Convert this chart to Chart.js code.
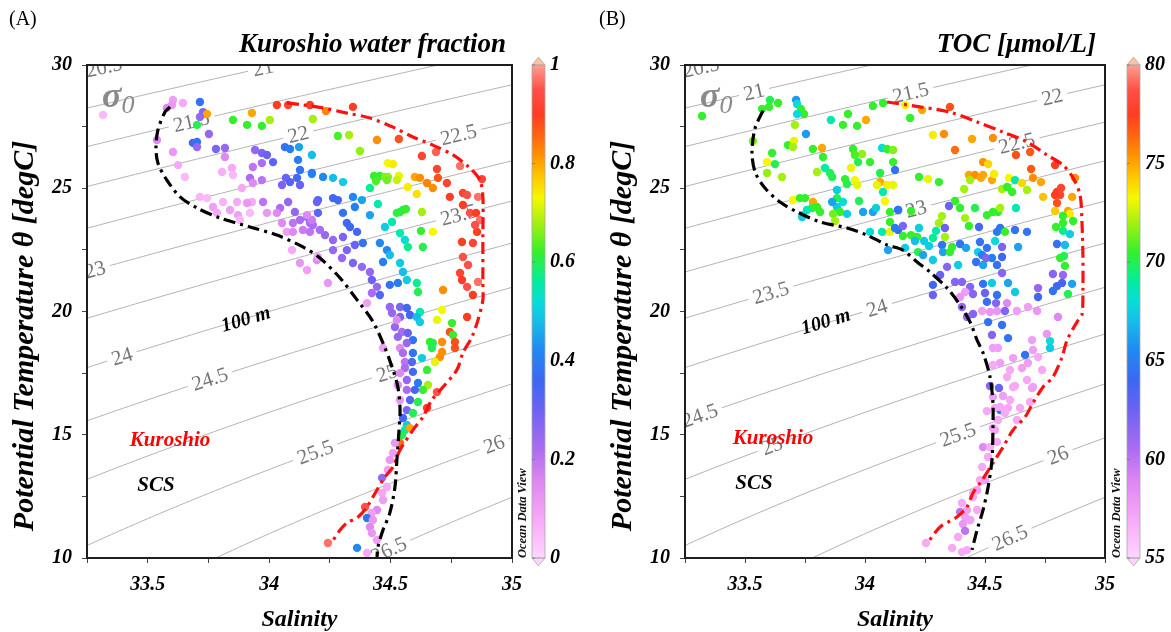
<!DOCTYPE html>
<html>
<head>
<meta charset="utf-8">
<script src="https://cdn.jsdelivr.net/npm/chart.js@4.4.1/dist/chart.umd.min.js"></script>
<style>
  html, body { margin: 0; padding: 0; background: #fff; width: 1171px; height: 632px; overflow: hidden; }
  canvas { position: absolute; top: 0; }
  #cA { left: 0; }
  #cB { left: 590px; }
</style>
</head>
<body>
<canvas id="cA" width="590" height="632"></canvas>
<canvas id="cB" width="581" height="632"></canvas>
<script>
// ---------- axis ranges and tick values ----------
const salinityRange = [33.25, 35];
const thetaRange = [10, 30];
const sigmaLevels = [20.5, 21, 21.5, 22, 22.5, 23, 23.5, 24, 24.5, 25, 25.5, 26, 26.5];
const fracTicks = [0, 0.2, 0.4, 0.6, 0.8, 1];
const tocTicks = [55, 60, 65, 70, 75, 80];

// ---------- water-mass boundary curves [salinity, theta] ----------
const scsCurveA = [[33.592,28.30],[33.571,28.09],[33.542,27.36],[33.534,26.67],[33.542,26.02],[33.579,25.33],[33.633,24.65],[33.703,24.20],[33.798,23.79],[33.921,23.43],[34.032,23.10],[34.139,22.62],[34.209,22.17],[34.292,21.36],[34.362,20.47],[34.423,19.66],[34.469,18.72],[34.506,17.75],[34.530,16.94],[34.539,16.00],[34.534,15.07],[34.526,13.98],[34.518,12.88],[34.497,11.83],[34.469,11.14],[34.448,10.45],[34.444,10.04]];
const kuroCurveA = [[34.073,28.46],[34.139,28.38],[34.222,28.26],[34.320,28.05],[34.415,27.85],[34.510,27.48],[34.592,27.08],[34.674,26.75],[34.757,26.35],[34.827,25.82],[34.868,25.33],[34.880,24.65],[34.880,23.02],[34.880,21.16],[34.880,20.47],[34.860,19.66],[34.835,18.97],[34.798,18.32],[34.773,17.63],[34.716,16.94],[34.670,16.41],[34.633,15.72],[34.592,15.19],[34.539,14.38],[34.510,13.69],[34.477,13.29],[34.444,12.76],[34.403,12.07],[34.366,11.66],[34.320,11.42],[34.292,11.14],[34.259,10.65]];
const scsCurveB = [[33.575,28.15],[33.542,27.44],[33.529,26.47],[33.542,25.66],[33.583,25.01],[33.646,24.44],[33.717,24.04],[33.813,23.63],[33.925,23.39],[34.008,23.10],[34.092,22.70],[34.158,22.49],[34.217,22.01],[34.271,21.60],[34.342,20.95],[34.396,20.26],[34.438,19.57],[34.467,18.84],[34.492,18.32],[34.521,17.34],[34.533,16.29],[34.533,15.19],[34.529,13.98],[34.513,12.88],[34.492,11.95],[34.467,11.14],[34.446,10.33]];
const kuroCurveB = [[34.092,28.50],[34.229,28.30],[34.354,28.09],[34.467,27.69],[34.575,27.28],[34.675,26.88],[34.758,26.35],[34.825,25.94],[34.867,25.42],[34.896,24.73],[34.904,23.63],[34.908,22.29],[34.908,20.95],[34.904,19.86],[34.885,19.60],[34.842,18.84],[34.821,18.15],[34.783,17.34],[34.742,16.94],[34.700,16.29],[34.667,15.72],[34.617,15.19],[34.575,14.50],[34.533,13.85],[34.488,13.16],[34.450,12.64],[34.425,12.07],[34.383,11.66],[34.313,11.26],[34.263,10.65]];

// ---------- samples: [salinity, theta, Kuroshio water fraction] ----------
const kuroshioFraction = [
 [33.316,27.97,0.05],[33.604,28.58,0.10],[33.645,28.46,0.08],[33.579,28.26,0.15],[33.600,28.38,0.12],[33.715,28.50,0.38],
 [33.728,28.09,0.28],[33.744,28.01,0.80],[33.715,27.89,0.25],[33.703,27.57,0.60],[33.752,27.20,0.25],[33.686,26.84,0.35],
 [33.703,26.88,0.38],[33.703,26.67,0.25],[33.538,26.96,0.15],[33.781,26.59,0.28],[33.818,26.63,0.25],[33.818,26.27,0.15],
 [33.604,26.47,0.12],[33.625,25.94,0.08],[33.653,25.46,0.05],[33.806,25.66,0.07],[33.847,25.82,0.08],[33.851,25.54,0.05],
 [33.921,25.42,0.22],[33.933,25.21,0.15],[33.970,25.33,0.20],[33.929,24.44,0.08],[33.975,24.44,0.20],[33.942,26.55,0.25],
 [33.970,26.43,0.28],[33.991,26.35,0.30],[33.970,26.02,0.22],[34.016,26.06,0.32],[33.933,25.86,0.20],[34.065,26.67,0.38],
 [34.086,26.59,0.40],[34.123,26.67,0.45],[34.119,26.15,0.40],[34.127,25.74,0.38],[34.176,26.35,0.48],[34.176,25.58,0.45],
 [34.069,25.42,0.30],[34.086,25.25,0.33],[34.053,25.13,0.28],[34.115,25.42,0.35],[34.127,25.13,0.30],[34.078,24.44,0.25],
 [34.045,24.20,0.22],[34.106,24.04,0.25],[34.201,24.52,0.38],[34.156,23.83,0.25],[34.168,23.59,0.22],[34.201,24.00,0.32],
 [33.715,24.65,0.06],[33.744,24.60,0.05],[33.769,24.24,0.10],[33.810,24.44,0.06],[33.785,24.00,0.08],[33.839,24.12,0.10],
 [33.868,24.44,0.08],[33.872,23.91,0.10],[33.909,24.40,0.12],[33.888,25.01,0.08],[33.921,24.00,0.05],[33.880,23.71,0.05],
 [33.991,24.00,0.12],[34.032,24.00,0.15],[34.073,23.23,0.10],[34.098,23.23,0.15],[34.139,23.31,0.18],[34.168,23.23,0.20],
 [34.094,22.49,0.08],[34.197,22.09,0.15],[34.127,23.71,0.22],[34.098,23.59,0.20],[34.053,23.59,0.15],
 [34.032,28.38,0.90],[33.929,28.05,0.80],[33.851,27.77,0.62],[33.909,27.57,0.62],[33.970,27.53,0.62],[34.003,27.77,0.68],
 [34.078,28.38,0.92],
 [34.168,28.38,0.90],[34.234,28.13,0.83],[34.345,28.30,0.90],[34.180,27.81,0.68],[34.283,27.12,0.63],[34.329,27.16,0.68],
 [34.374,26.51,0.67],[34.444,26.96,0.82],[34.534,27.00,0.88],[34.629,26.31,0.92],[34.687,26.47,0.96],[34.786,25.90,0.97],
 [34.691,25.78,0.92],[34.695,25.42,0.88],[34.732,25.21,0.92],[34.876,25.37,0.92],[34.489,26.02,0.73],[34.510,25.98,0.74],
 [34.432,25.50,0.62],[34.456,25.50,0.62],[34.477,25.46,0.66],[34.489,25.46,0.67],[34.534,25.50,0.72],[34.440,25.29,0.63],
 [34.485,25.33,0.65],[34.526,25.33,0.70],[34.600,25.46,0.80],[34.621,25.42,0.82],[34.571,25.05,0.74],[34.608,24.77,0.75],
 [34.650,25.21,0.83],[34.674,25.01,0.82],[34.744,24.65,0.90],[34.798,24.81,0.92],[34.815,24.73,0.95],[34.798,24.32,0.90],
 [34.860,24.65,0.97],[34.827,24.00,0.95],[34.852,24.00,0.90],[34.868,23.71,0.97],[34.856,23.23,0.90],[34.848,23.51,0.95],
 [34.794,22.82,0.90],[34.839,22.78,0.92],[34.798,22.21,0.95],[34.819,21.89,0.95],[34.786,21.56,0.92],[34.860,21.20,0.97],
 [34.815,21.00,0.95],[34.794,21.28,0.90],[34.839,20.67,0.90],[34.716,20.87,0.82],[34.629,24.04,0.68],[34.674,23.23,0.73],
 [34.625,23.27,0.62],[34.633,22.62,0.60],[34.539,24.04,0.62],[34.551,24.12,0.60],[34.563,24.16,0.62],[34.526,24.00,0.61],
 [34.415,25.01,0.57],[34.448,24.36,0.55],[34.415,23.91,0.45],[34.353,24.24,0.40],[34.382,24.52,0.45],[34.345,24.65,0.42],
 [34.304,25.25,0.50],[34.263,25.42,0.48],[34.222,25.46,0.42],[34.176,25.62,0.40],[34.283,24.52,0.35],[34.263,24.60,0.35],
 [34.197,24.44,0.30],[34.320,23.59,0.35],[34.333,23.43,0.36],[34.304,24.00,0.38],[34.477,23.43,0.50],[34.506,23.63,0.55],
 [34.539,23.18,0.55],[34.559,22.90,0.52],[34.571,22.62,0.57],[34.456,22.78,0.42],[34.485,22.49,0.42],[34.497,22.29,0.48],
 [34.469,22.01,0.40],[34.539,21.97,0.50],[34.551,21.60,0.48],[34.567,21.28,0.50],[34.608,21.16,0.57],[34.613,20.79,0.60],
 [34.530,21.16,0.40],[34.497,21.08,0.38],[34.386,22.78,0.38],[34.353,22.70,0.30],[34.362,23.23,0.35],[34.304,23.02,0.28],
 [34.263,22.90,0.25],[34.230,23.10,0.25],[34.209,23.31,0.22],[34.180,23.51,0.22],[34.176,23.71,0.18],[34.156,23.91,0.15],
 [34.263,22.49,0.25],[34.320,22.49,0.28],[34.300,22.17,0.25],[34.345,21.97,0.28],[34.382,21.81,0.25],[34.415,21.60,0.25],
 [34.423,21.28,0.30],[34.444,21.00,0.25],[34.423,20.75,0.22],[34.456,20.67,0.33],[34.242,21.16,0.12],[34.156,21.68,0.10],
 [34.201,22.21,0.10],[34.127,21.97,0.12],
 [34.403,20.34,0.10],[34.497,20.18,0.25],[34.539,20.18,0.28],[34.567,20.14,0.35],[34.621,19.98,0.55],[34.712,20.06,0.73],
 [34.506,19.94,0.25],[34.539,19.78,0.28],[34.580,19.86,0.35],[34.608,19.78,0.48],[34.621,19.57,0.50],[34.691,19.66,0.72],
 [34.753,19.53,0.62],[34.815,19.78,0.90],[34.518,19.37,0.25],[34.547,19.17,0.22],[34.571,19.13,0.30],[34.530,18.97,0.25],
 [34.526,19.66,0.15],[34.592,18.84,0.38],[34.567,18.72,0.25],[34.539,18.52,0.15],[34.469,18.52,0.10],[34.551,18.32,0.22],
 [34.592,18.32,0.38],[34.629,18.11,0.50],[34.662,18.76,0.62],[34.670,18.52,0.60],[34.674,18.72,0.60],[34.712,18.76,0.82],
 [34.712,18.36,0.82],[34.744,19.17,0.88],[34.757,19.05,0.62],[34.765,18.76,0.88],[34.765,18.52,0.88],[34.703,18.15,0.82],
 [34.683,17.95,0.72],[34.650,17.63,0.62],[34.559,17.95,0.20],[34.588,17.95,0.33],[34.559,17.71,0.22],[34.592,17.55,0.35],
 [34.539,17.50,0.15],[34.567,17.22,0.25],[34.613,17.10,0.40],[34.654,17.02,0.68],[34.633,16.82,0.62],[34.600,16.82,0.35],
 [34.567,16.82,0.22],[34.530,17.02,0.15],[34.539,16.41,0.12],[34.580,16.41,0.33],[34.613,16.33,0.60],[34.650,16.09,0.90],
 [34.691,16.73,0.95],[34.567,16.00,0.28],[34.592,15.88,0.60],[34.551,15.68,0.35],[34.567,15.40,0.50],[34.559,15.19,0.55],
 [34.580,15.27,0.80],[34.547,14.99,0.60],[34.539,14.67,0.85],[34.518,14.67,0.12],[34.510,14.26,0.10],[34.497,13.98,0.12],
 [34.489,13.57,0.10],[34.465,13.25,0.25],[34.485,12.88,0.08],[34.465,12.64,0.08],[34.469,12.35,0.10],[34.444,11.95,0.15],
 [34.423,11.83,0.10],[34.403,11.62,0.38],[34.427,11.54,0.12],[34.415,11.26,0.15],[34.423,11.01,0.12],[34.444,10.73,0.10],
 [34.395,12.07,0.95],[34.362,10.41,0.42],[34.403,10.20,0.08],[34.242,10.61,0.97]
];

// ---------- samples: [salinity, theta, TOC umol/L] ----------
const tocValues = [
 [33.321,27.93,70.5],[33.571,28.22,70.5],[33.604,28.58,70],[33.600,28.30,70.5],[33.638,28.46,70.5],[33.713,28.58,66],
 [33.717,28.42,68],[33.733,28.22,70.5],[33.746,28.01,70.5],[33.717,28.01,68],[33.708,27.57,72],[33.754,27.20,66],
 [33.533,26.92,71.5],[33.679,26.75,70.5],[33.704,26.92,73],[33.700,26.67,72],[33.613,26.43,70.5],[33.592,26.06,73.25],
 [33.625,25.98,70],[33.592,25.62,71.75],[33.654,25.46,72],[33.783,26.59,70.5],[33.821,26.63,75],[33.825,26.27,70.5],
 [33.800,25.66,72],[33.833,25.82,68.75],[33.854,25.62,70],[33.863,25.46,70],[33.858,27.77,68.75],[33.929,28.01,70.5],
 [33.908,27.57,70.5],[33.967,27.53,70.5],[34.004,27.77,75],[34.033,28.34,70.5],[34.075,28.46,70.5],[33.950,26.59,70.5],
 [33.988,26.39,71.75],[33.958,26.35,70.75],[33.971,26.06,70],[34.021,26.06,70.5],[33.942,25.82,73],[34.071,26.63,68],
 [34.092,26.59,70.5],[34.117,26.55,71.5],[34.117,26.06,70.5],[34.125,25.74,64.5],[33.917,25.37,70.5],[33.958,25.33,73.25],
 [33.967,25.13,73],[33.925,25.17,70],[33.883,24.93,67.5],[34.063,25.62,70],[34.063,25.25,75],[34.050,25.13,73],
 [34.092,25.13,73.5],[34.117,25.13,73],[34.075,24.85,68.75],[34.083,24.48,73.25],[33.975,24.48,70],[33.883,24.60,70],
 [33.908,24.44,68],[33.883,24.24,67.5],[33.896,24.04,70.5],[33.863,24.44,66.25],[33.867,23.96,71.25],[33.875,23.67,72],
 [33.925,23.96,67.5],[33.992,24.04,66.25],[34.033,24.04,66.25],[34.046,24.20,67.5],[34.104,24.04,70.5],[34.138,24.12,63.75],
 [34.104,23.63,70.5],[34.104,23.23,73],[34.138,23.31,63.75],[34.071,23.23,68.75],[34.021,23.23,68],[34.096,22.49,66.25],
 [33.700,24.52,73.25],[33.729,24.60,70.5],[33.750,24.60,70.5],[33.783,24.44,75],[33.800,24.24,70.5],[33.779,24.20,70.5],
 [33.813,24.04,70.5],[33.758,24.12,68.75],[33.742,23.91,68],[33.738,23.83,67.5],
 [34.167,28.38,73.25],[34.238,28.17,75],[34.188,27.85,70.5],[34.354,28.30,77],[34.283,27.16,73.5],[34.329,27.20,75.5],
 [34.446,27.00,75],[34.533,27.04,75.5],[34.375,26.55,76.25],[34.492,26.06,75.5],[34.513,25.98,74],[34.629,26.35,77],
 [34.688,26.47,76.75],[34.692,25.78,76.75],[34.792,25.94,77.5],[34.433,25.54,75],[34.458,25.54,75.5],[34.483,25.42,75],
 [34.492,25.54,75],[34.529,25.33,75],[34.538,25.58,73.5],[34.600,25.42,73.25],[34.625,25.33,68.75],[34.700,25.42,75.5],
 [34.733,25.25,75],[34.654,25.21,74],[34.675,24.93,72],[34.438,25.33,72],[34.413,24.97,72],[34.571,24.97,72],
 [34.613,24.85,70.5],[34.592,25.05,70.5],[34.308,25.25,70.5],[34.263,25.37,73],[34.225,25.46,70.5],[34.800,24.85,77.5],
 [34.813,24.73,78],[34.792,24.73,77.5],[34.817,25.01,78],[34.800,24.40,77],[34.742,24.65,74.5],[34.863,24.65,75],
 [34.875,25.42,75.5],[34.792,24.08,74.25],[34.846,24.08,75],[34.854,23.96,73.5],[34.825,23.87,70.5],[34.867,23.67,70.5],
 [34.825,23.59,70.5],[34.796,23.43,70.5],[34.825,23.27,69.25],[34.854,23.14,67.5],[34.800,22.74,64.5],[34.833,22.70,67],
 [34.813,22.17,70.5],[34.829,22.25,70],[34.833,21.85,70.5],[34.783,21.52,61.75],[34.825,21.48,61.25],[34.821,21.16,63.75],
 [34.800,21.03,63.75],[34.783,20.83,64.5],[34.863,21.12,66.25],[34.846,20.71,70],[34.721,20.95,61.25],[34.721,20.59,63.75],
 [34.629,24.20,68.75],[34.554,24.04,70.5],[34.563,24.20,72],[34.533,24.04,70.5],[34.475,23.43,63.75],[34.508,23.91,70.5],
 [34.433,23.47,70.5],[34.417,23.79,72],[34.458,24.20,70],[34.396,24.20,70.5],[34.350,24.28,62.5],[34.375,24.48,70.5],
 [34.321,23.87,72],[34.308,23.59,72],[34.333,23.39,62.5],[34.296,23.27,68.75],[34.333,23.02,72],[34.283,22.98,69.25],
 [34.267,22.66,67.5],[34.246,22.86,67.5],[34.217,23.02,70.5],[34.192,23.10,70.5],[34.225,23.39,67.5],[34.192,24.08,70.5],
 [34.138,24.12,64.5],[34.158,23.47,62],[34.158,23.06,70.5],[34.125,23.39,65],[34.167,22.58,67.5],[34.208,22.86,67],
 [34.221,22.41,70],[34.242,22.29,66.25],[34.283,22.09,67.5],[34.321,22.70,64.5],[34.325,22.41,66.25],[34.354,22.41,70.5],
 [34.363,22.62,70.5],[34.396,22.74,64.5],[34.421,22.58,66.25],[34.479,22.82,64.5],[34.471,22.41,67.5],[34.488,22.29,65],
 [34.463,22.01,64.5],[34.492,21.89,66.25],[34.508,22.58,64.5],[34.550,23.23,65],[34.563,23.39,64.5],[34.583,23.23,70.5],
 [34.542,22.86,68],[34.571,22.62,62],[34.571,22.21,63.75],[34.529,22.17,65],[34.504,22.17,62],[34.550,21.89,64.5],
 [34.571,21.56,61.75],[34.625,23.31,64.5],[34.638,22.62,66.25],[34.675,23.23,64.5],[34.388,21.89,67.5],[34.342,21.81,61.75],
 [34.313,21.48,62.5],[34.283,21.08,63.75],[34.375,21.20,61.75],[34.404,21.20,61.75],[34.438,21.00,61.75],[34.417,20.79,57.5],
 [34.450,20.71,61.75],[34.492,21.12,64.5],[34.500,20.75,62.5],[34.529,21.16,67.5],[34.550,20.67,64.5],[34.596,21.16,66.25],
 [34.625,20.79,67.5],[34.508,20.39,64.5],[34.546,20.34,61.75],[34.592,20.34,58.75],[34.488,20.02,57.5],[34.521,19.98,58],
 [34.550,20.02,58],[34.583,20.02,61.75],[34.633,20.02,57.5],[34.404,20.18,61.25],[34.450,19.90,61.75],[34.425,19.78,61.25],
 [34.679,20.18,57.5],[34.717,20.02,58],[34.804,19.78,58.75],[34.283,20.67,62.5],[34.396,20.59,58],
 [34.513,19.57,64.5],[34.571,19.45,64.5],[34.529,19.05,61.75],[34.596,18.92,64.5],[34.533,18.52,57.5],[34.554,18.52,57.5],
 [34.667,18.24,64.5],[34.771,18.80,68],[34.771,18.52,67.5],[34.758,19.09,58],[34.696,18.84,57.5],[34.700,18.44,57.5],
 [34.617,18.11,57.5],[34.654,17.71,57.5],[34.563,17.91,57.5],[34.592,17.34,57],[34.533,17.83,57],[34.521,16.98,61.75],
 [34.558,16.90,62.5],[34.575,16.57,57.5],[34.604,16.41,57],[34.646,16.09,57],[34.696,16.90,57.5],[34.625,16.98,57],
 [34.563,16.00,65],[34.554,15.60,57],[34.533,15.27,57.5],[34.596,16.09,57],[34.542,16.09,57],[34.508,15.96,57],
 [34.550,14.71,57],[34.492,14.50,58.75],[34.513,14.10,57],[34.488,13.69,57],[34.479,13.16,57],[34.467,12.76,57.5],
 [34.450,12.47,57],[34.404,12.23,57],[34.425,11.95,57.5],[34.396,11.87,60],[34.417,11.66,57.5],[34.438,11.54,57],
 [34.408,11.38,58],[34.417,11.10,60],[34.254,10.61,57],[34.363,10.41,57],[34.404,10.24,57],
 [34.675,17.22,57],[34.700,16.94,57.5],[34.617,16.94,57],[34.583,15.88,57],[34.633,15.60,57],[34.563,16.13,57],
 [34.533,16.53,57.5],[34.604,17.63,57],[34.679,17.91,57.5],[34.721,18.15,57],[34.738,17.63,57],[34.688,16.33,57],
 [34.542,15.19,57],[34.521,14.50,57],[34.500,13.16,57.5],[34.467,11.95,57],[34.450,12.64,57],[34.438,11.54,57.5],
 [34.388,10.85,57],[34.425,10.32,57]
];

// ---------- style ----------
const SERIF = '"Liberation Serif", "Times New Roman", serif';
const cmapStops = [
  [0.00,'#ffd6ff'],[0.08,'#f7a8f7'],[0.16,'#dc84f3'],[0.22,'#ac6cf1'],[0.30,'#6c62f2'],[0.36,'#3c68f3'],
  [0.42,'#2088f2'],[0.48,'#16bde9'],[0.52,'#08dcd8'],[0.56,'#00eda0'],[0.62,'#34f02c'],[0.68,'#a4f010'],
  [0.73,'#f6f800'],[0.78,'#ffc000'],[0.82,'#ff8e00'],[0.86,'#ff6212'],[0.90,'#ff3d22'],[0.95,'#ff5048'],[1.00,'#ffa090']
];
function hexRgb(h){ return [parseInt(h.slice(1,3),16), parseInt(h.slice(3,5),16), parseInt(h.slice(5,7),16)]; }
function cmap(n){
  n = Math.max(0, Math.min(1, n));
  for (let i = 1; i < cmapStops.length; i++){
    const [n1, c1] = cmapStops[i];
    if (n <= n1){
      const [n0, c0] = cmapStops[i-1];
      const f = (n - n0) / (n1 - n0);
      const a = hexRgb(c0), b = hexRgb(c1);
      return 'rgb(' + a.map((v, k) => Math.round(v + (b[k] - v) * f)).join(',') + ')';
    }
  }
  return cmapStops[cmapStops.length-1][1];
}

// ---------- UNESCO 1980 equation of state at the surface ----------
function rho0(S, T){
  const rw = 999.842594 + 6.793952e-2*T - 9.095290e-3*T*T + 1.001685e-4*T**3 - 1.120083e-6*T**4 + 6.536332e-9*T**5;
  const A = 8.24493e-1 - 4.0899e-3*T + 7.6438e-5*T*T - 8.2467e-7*T**3 + 5.3875e-9*T**4;
  const B = -5.72466e-3 + 1.0227e-4*T - 1.6546e-6*T*T;
  return rw + A*S + B*Math.pow(S, 1.5) + 4.8314e-4*S*S;
}
function thetaOnIsopycnal(S, sig){
  let lo = -2, hi = 40;
  for (let i = 0; i < 60; i++){
    const mid = (lo + hi) / 2;
    if (rho0(S, mid) - 1000 > sig) lo = mid; else hi = mid;
  }
  return (lo + hi) / 2;
}
function isoLine(sig){
  const pts = [];
  for (let s = 33.0; s <= 35.3001; s += 0.025) pts.push({x: s, y: thetaOnIsopycnal(s, sig)});
  return pts;
}
function isoAngle(xs, ys, s, sig){
  const s1 = s - 0.04, s2 = s + 0.04;
  const x1 = xs.getPixelForValue(s1), y1 = ys.getPixelForValue(thetaOnIsopycnal(s1, sig));
  const x2 = xs.getPixelForValue(s2), y2 = ys.getPixelForValue(thetaOnIsopycnal(s2, sig));
  return Math.atan2(y2 - y1, x2 - x1);
}

// ---------- panels ----------
const panels = [
  {
    canvas: 'cA', tag: '(A)', title: 'Kuroshio water fraction',
    samples: kuroshioFraction, scale: [0, 1], cbarTicks: fracTicks,
    scs: scsCurveA, kuro: kuroCurveA,
    yAxisWidth: 87, padRight: 78, cbarX: 532, odvX: 522, yTitleX: 25,
    isoLabels: [[20.5,33.32],[21,33.975],[21.5,33.68],[22,34.12],[22.5,34.78],[23,33.283],[23.5,34.78],
                [24,33.394],[24.5,33.756],[25,34.485],[25.5,34.19],[26,34.926],[26.5,34.493]],
    notes: {sigma: [33.312, 28.30], depth: [33.905, 19.66], kuro: [33.592, 14.75], scs: [33.534, 12.92]}
  },
  {
    canvas: 'cB', tag: '(B)', title: 'TOC [\u03bcmol/L]',
    samples: tocValues, scale: [55, 80], cbarTicks: tocTicks,
    scs: scsCurveB, kuro: kuroCurveB,
    yAxisWidth: 95, padRight: 66, cbarX: 537, odvX: 526, yTitleX: 33,
    isoLabels: [[20.5,33.317],[21,33.5375],[21.5,34.19],[22,34.78],[22.5,34.633],[23,34.2125],[23.5,33.608],
                [24,34.05],[24.5,33.3125],[25,33.6125],[25.5,34.3875],[26,34.804],[26.5,34.604]],
    notes: {sigma: [33.3125, 28.30], depth: [33.8375, 19.57], kuro: [33.617, 14.83], scs: [33.5375, 13.0]}
  }
];

function drawText(ctx, str, x, y, font, color, align, baseline, angle){
  ctx.save();
  ctx.translate(x, y);
  if (angle) ctx.rotate(angle);
  ctx.font = font;
  ctx.fillStyle = color;
  ctx.textAlign = align || 'left';
  ctx.textBaseline = baseline || 'alphabetic';
  ctx.fillText(str, 0, 0);
  ctx.restore();
}

function drawIsoLabels(chart, p){
  const {ctx, chartArea: ca} = chart;
  const xs = chart.scales.x, ys = chart.scales.y;
  ctx.save();
  ctx.beginPath(); ctx.rect(ca.left, ca.top, ca.width, ca.height); ctx.clip();
  ctx.font = '21px ' + SERIF;
  p.isoLabels.forEach(([sig, s]) => {
    const t = thetaOnIsopycnal(s, sig);
    const px = xs.getPixelForValue(s), py = ys.getPixelForValue(t);
    const ang = isoAngle(xs, ys, s, sig);
    const txt = String(sig);
    const w = ctx.measureText(txt).width;
    ctx.save();
    ctx.translate(px, py); ctx.rotate(ang);
    ctx.fillStyle = '#fff';
    ctx.fillRect(-w/2 - 5, -4, w + 10, 8);
    ctx.fillStyle = '#767676';
    ctx.textAlign = 'center'; ctx.textBaseline = 'middle';
    ctx.fillText(txt, 0, 1);
    ctx.restore();
  });
  ctx.restore();
}

function drawDecor(chart, p){
  const {ctx, chartArea: ca} = chart;
  const xs = chart.scales.x, ys = chart.scales.y;
  const [vmin, vmax] = p.scale;

  // frame
  ctx.save();
  ctx.strokeStyle = '#1e1e1e'; ctx.lineWidth = 2;
  ctx.strokeRect(ca.left, ca.top, ca.width, ca.height);
  ctx.restore();

  // colour bar
  const bx = p.cbarX, bw = 13, top = ca.top, bot = ca.bottom;
  ctx.save();
  for (let yy = top; yy < bot; yy++){
    ctx.fillStyle = cmap((bot - yy - 0.5) / (bot - top));
    ctx.fillRect(bx, yy, bw, 1);
  }
  ctx.strokeStyle = '#a8a8a8'; ctx.lineWidth = 0.8;
  ctx.beginPath(); ctx.moveTo(bx, top); ctx.lineTo(bx + bw/2, top - 8); ctx.lineTo(bx + bw, top); ctx.closePath();
  ctx.fillStyle = '#ffc2a4'; ctx.fill(); ctx.stroke();
  ctx.beginPath(); ctx.moveTo(bx, bot); ctx.lineTo(bx + bw/2, bot + 8); ctx.lineTo(bx + bw, bot); ctx.closePath();
  ctx.fillStyle = '#ffd6ff'; ctx.fill(); ctx.stroke();
  ctx.strokeRect(bx, top, bw, bot - top);
  ctx.strokeStyle = '#777';
  p.cbarTicks.forEach(v => {
    const yy = bot - (v - vmin) / (vmax - vmin) * (bot - top);
    ctx.beginPath(); ctx.moveTo(bx, yy); ctx.lineTo(bx + 3, yy); ctx.stroke();
    drawText(ctx, String(v), bx + bw + 5, yy, 'italic bold 20px ' + SERIF, '#000', 'left', 'middle');
  });
  ctx.restore();
  drawText(ctx, 'Ocean Data View', p.odvX + 4, bot, 'italic bold 12.5px ' + SERIF, '#111', 'left', 'alphabetic', -Math.PI/2);

  // panel tag and title
  drawText(ctx, p.tag, 9, 25, '20px ' + SERIF, '#000', 'left', 'alphabetic');
  drawText(ctx, p.title, 506, 52, 'italic bold 27px ' + SERIF, '#000', 'right', 'alphabetic');

  // axis titles
  drawText(ctx, 'Salinity', (ca.left + ca.right) / 2, 626, 'italic bold 24px ' + SERIF, '#000', 'center', 'alphabetic');
  drawText(ctx, 'Potential Temperature \u03b8 [degC]', p.yTitleX, 336, 'italic bold 30px ' + SERIF,
           '#000', 'center', 'middle', -Math.PI/2);

  // in-plot annotations
  const n = p.notes;
  let px = xs.getPixelForValue(n.sigma[0]), py = ys.getPixelForValue(n.sigma[1]);
  ctx.save();
  ctx.font = 'italic bold 36px ' + SERIF;
  const ws = ctx.measureText('\u03c3').width;
  ctx.restore();
  drawText(ctx, '\u03c3', px, py, 'italic bold 36px ' + SERIF, '#8a8a8a', 'left', 'alphabetic');
  drawText(ctx, '0', px + ws, py + 6, 'italic 26px ' + SERIF, '#8a8a8a', 'left', 'alphabetic');

  px = xs.getPixelForValue(n.depth[0]); py = ys.getPixelForValue(n.depth[1]);
  const sigHere = rho0(n.depth[0], n.depth[1]) - 1000;
  drawText(ctx, '100 m', px, py, 'italic bold 20px ' + SERIF, '#000', 'center', 'middle', isoAngle(xs, ys, n.depth[0], sigHere));

  drawText(ctx, 'Kuroshio', xs.getPixelForValue(n.kuro[0]), ys.getPixelForValue(n.kuro[1]),
           'italic bold 21px ' + SERIF, '#ff0000', 'center', 'middle');
  drawText(ctx, 'SCS', xs.getPixelForValue(n.scs[0]), ys.getPixelForValue(n.scs[1]),
           'italic bold 21px ' + SERIF, '#000', 'center', 'middle');
}

function makeOverlay(p){
  let isoDrawn = 0;
  return {
    id: 'tsOverlay',
    beforeDatasetsDraw(){ isoDrawn = 0; },
    afterDatasetDraw(chart, args){
      const ds = chart.data.datasets[args.index];
      if (ds.role === 'iso'){
        isoDrawn++;
        if (isoDrawn === sigmaLevels.length) drawIsoLabels(chart, p);
      }
    },
    afterDraw(chart){ drawDecor(chart, p); }
  };
}

const tickFont = {family: 'Liberation Serif', size: 20, style: 'italic', weight: 'bold'};

function buildPanel(p){
  const [vmin, vmax] = p.scale;
  const colours = p.samples.map(r => cmap((r[2] - vmin) / (vmax - vmin)));
  const isoSets = sigmaLevels.map(sig => ({
    role: 'iso', data: isoLine(sig), showLine: true, pointRadius: 0,
    borderColor: '#b3b3b3', borderWidth: 1, tension: 0, order: 3
  }));
  const sampleSet = {
    role: 'samples', data: p.samples.map(r => ({x: r[0], y: r[1]})),
    pointRadius: 4.2, pointBackgroundColor: colours, pointBorderColor: colours, pointBorderWidth: 0, order: 2
  };
  const curve = (arr, colour) => ({
    role: 'curve', data: arr.map(r => ({x: r[0], y: r[1]})), showLine: true, pointRadius: 0,
    borderColor: colour, borderWidth: 3.2, borderDash: [12, 5, 3, 5], tension: 0.3, order: 1
  });

  new Chart(document.getElementById(p.canvas), {
    type: 'scatter',
    data: {datasets: [...isoSets, sampleSet, curve(p.scs, '#000000'), curve(p.kuro, '#ff1010')]},
    options: {
      responsive: false, animation: false, devicePixelRatio: 1, events: [],
      layout: {padding: {left: 0, top: 65, right: p.padRight, bottom: 0}},
      plugins: {legend: {display: false}, tooltip: {enabled: false}},
      scales: {
        x: {
          type: 'linear', position: 'bottom', min: salinityRange[0], max: salinityRange[1],
          afterFit(s){ s.height = 74; },
          ticks: {stepSize: 0.25, autoSkip: false, maxRotation: 0, padding: 10, color: '#000', font: tickFont,
                  callback: v => Math.abs(v * 2 - Math.round(v * 2)) < 1e-6 ? String(v) : ''},
          grid: {drawOnChartArea: false, drawTicks: true, tickLength: 5, color: '#444'},
          border: {display: false}
        },
        y: {
          type: 'linear', position: 'left', min: thetaRange[0], max: thetaRange[1],
          afterFit(s){ s.width = p.yAxisWidth; },
          ticks: {stepSize: 2.5, autoSkip: false, padding: 10, color: '#000', font: tickFont,
                  callback: v => v % 5 === 0 ? String(v) : ''},
          grid: {drawOnChartArea: false, drawTicks: true, tickLength: 5, color: '#444'},
          border: {display: false}
        }
      }
    },
    plugins: [makeOverlay(p)]
  });
}

panels.forEach(buildPanel);
</script>
</body>
</html>
